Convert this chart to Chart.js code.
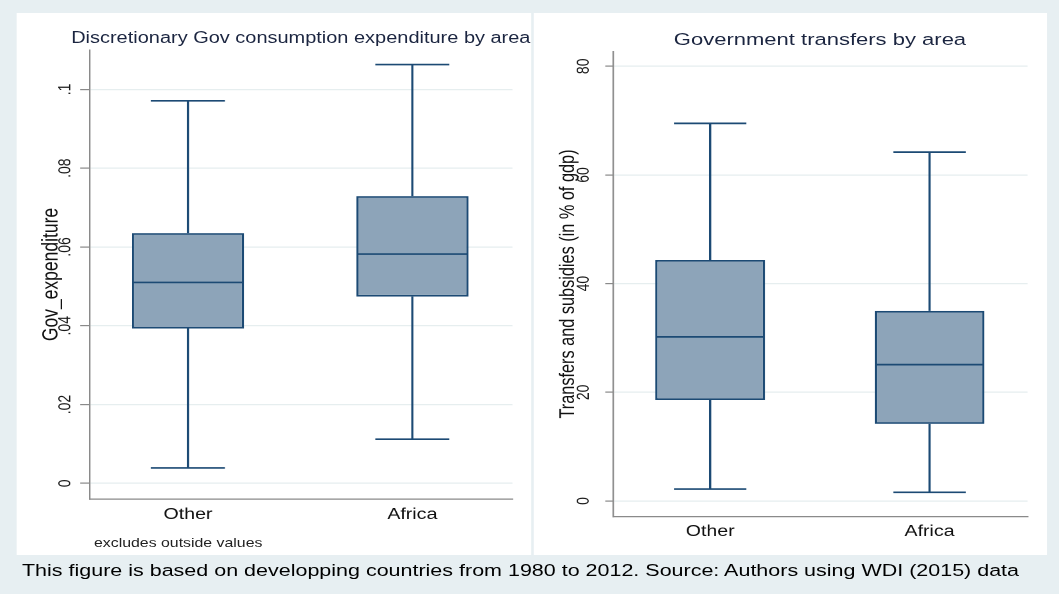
<!DOCTYPE html>
<html>
<head>
<meta charset="utf-8">
<script src="https://cdn.jsdelivr.net/npm/chart.js@4.4.1/dist/chart.umd.min.js"></script>
<style>
  html, body { margin:0; padding:0; width:1059px; height:594px; overflow:hidden; background:#e7eff2; }
  #stage { position:absolute; left:0; top:0; width:828px; height:594px; transform:scaleX(1.28); transform-origin:0 0;
           font-family:"Liberation Sans", Arial, Helvetica, sans-serif; }
  canvas { position:absolute; background:#ffffff; }
  .txt { position:absolute; white-space:nowrap; line-height:1; }
</style>
</head>
<body>
<div id="stage">
  <canvas id="leftChart"></canvas>
  <canvas id="rightChart"></canvas>
  <div id="leftTitle" class="txt">Discretionary Gov consumption expenditure by area</div>
  <div id="rightTitle" class="txt">Government transfers by area</div>
  <div id="note" class="txt">excludes outside values</div>
  <div id="caption" class="txt">This figure is based on developping countries from 1980 to 2012. Source: Authors using WDI (2015) data</div>
</div>
<script>
// ---------------- data ----------------
const categories = ['Other', 'Africa'];
const categoryPositions = [1, 2];

// Left: Discretionary Gov consumption expenditure (share of GDP)
const govLow    = [0.0039, 0.0112];
const govQ1     = [0.0393, 0.0474];
const govMedian = [0.0510, 0.0582];
const govQ3     = [0.0635, 0.0729];
const govHigh   = [0.0971, 0.1063];
const govTickValues = [0, 0.02, 0.04, 0.06, 0.08, 0.1];
const govTickLabels = ['0', '.02', '.04', '.06', '.08', '.1'];

// Right: Transfers and subsidies (% of GDP)
const trfLow    = [2.2, 1.6];
const trfQ1     = [18.6, 14.2];
const trfMedian = [30.2, 25.1];
const trfQ3     = [44.35, 35.0];
const trfHigh   = [69.5, 64.2];
const trfTickValues = [0, 20, 40, 60, 80];
const trfTickLabels = ['0', '20', '40', '60', '80'];

// ---------------- styling / layout ----------------
const S = 1.28;                 // horizontal stretch of the original export
const X = px => px / S;         // original px -> stage px
const FONT = '"Liberation Sans", Arial, Helvetica, sans-serif';
const NAVY = '#1c4a74';
const FILL = '#8da4b9';
const GRID = '#e6eeef';
const AXIS = '#8a8a8a';

Chart.defaults.font.family = FONT;

function placeText(id, opts) {
  const el = document.getElementById(id);
  el.style.fontSize = opts.size + 'px';
  el.style.color = opts.color;
  el.style.top = (opts.capCenterY - 0.49 * opts.size) + 'px';
  if (opts.centerX !== undefined) {
    el.style.left = (X(opts.centerX) - 400) + 'px';
    el.style.width = '800px';
    el.style.textAlign = 'center';
  } else {
    el.style.left = X(opts.leftX) + 'px';
  }
}

function whiskerPlugin(stats) {
  return {
    id: 'whiskers',
    afterDatasetsDraw(chart) {
      const {ctx} = chart;
      const xs = chart.scales.x, ys = chart.scales.y;
      ctx.save();
      ctx.strokeStyle = NAVY;
      ctx.lineWidth = 1.7;
      stats.positions.forEach((pos, i) => {
        const xc = xs.getPixelForValue(pos);
        const capL = xs.getPixelForValue(pos - stats.capWidth / 2);
        const capR = xs.getPixelForValue(pos + stats.capWidth / 2);
        const boxL = xs.getPixelForValue(pos - stats.boxWidth / 2);
        const boxR = xs.getPixelForValue(pos + stats.boxWidth / 2);
        const pLo = ys.getPixelForValue(stats.low[i]);
        const pQ1 = ys.getPixelForValue(stats.q1[i]);
        const pMed = ys.getPixelForValue(stats.median[i]);
        const pQ3 = ys.getPixelForValue(stats.q3[i]);
        const pHi = ys.getPixelForValue(stats.high[i]);
        ctx.beginPath();
        ctx.moveTo(xc, pQ3); ctx.lineTo(xc, pHi);
        ctx.moveTo(capL, pHi); ctx.lineTo(capR, pHi);
        ctx.moveTo(xc, pQ1); ctx.lineTo(xc, pLo);
        ctx.moveTo(capL, pLo); ctx.lineTo(capR, pLo);
        ctx.moveTo(boxL + 0.8, pMed); ctx.lineTo(boxR - 0.8, pMed);
        ctx.stroke();
      });
      ctx.restore();
    }
  };
}

function makeBoxChart(cfg) {
  const canvas = document.getElementById(cfg.id);
  const left = X(cfg.canvasLeft);
  const width = Math.round(X(cfg.canvasRight - cfg.canvasLeft));
  const height = cfg.canvasBottom - cfg.canvasTop;
  canvas.style.left = left + 'px';
  canvas.style.top = cfg.canvasTop + 'px';
  canvas.style.width = width + 'px';
  canvas.style.height = height + 'px';
  canvas.width = width;
  canvas.height = height;

  const yAxisWidth = X(cfg.plotLeft) - left;
  const padRight = (left + width) - X(cfg.plotRight);
  const padTop = cfg.plotTop - cfg.canvasTop;
  const xAxisHeight = cfg.canvasBottom - cfg.plotBottom;

  const s = cfg.stats;
  return new Chart(canvas, {
    type: 'bar',
    data: {
      datasets: [{
        data: categories.map((c, i) => ({x: categoryPositions[i], y: [s.q1[i], s.q3[i]]})),
        backgroundColor: FILL,
        borderColor: NAVY,
        borderWidth: 1.7,
        borderSkipped: false,
        categoryPercentage: 1,
        barPercentage: s.boxWidth
      }]
    },
    options: {
      responsive: false,
      animation: false,
      devicePixelRatio: 2,
      layout: { padding: { left: 0, right: padRight, top: padTop, bottom: 0 } },
      plugins: { legend: { display: false }, tooltip: { enabled: false }, title: { display: false } },
      scales: {
        x: {
          type: 'linear', min: cfg.xMin, max: cfg.xMax, offset: false,
          afterBuildTicks: sc => { sc.ticks = categoryPositions.map(v => ({value: v})); },
          afterFit: sc => { sc.height = xAxisHeight; },
          ticks: {
            callback: v => categories[categoryPositions.indexOf(v)],
            font: { size: 15.3 }, color: '#111', padding: cfg.xLabelPad,
            maxRotation: 0, minRotation: 0, autoSkip: false
          },
          grid: { display: false, drawTicks: false, offset: false },
          border: { display: true, color: AXIS, width: 1.2 }
        },
        y: {
          type: 'linear', min: cfg.yMin, max: cfg.yMax,
          afterBuildTicks: sc => { sc.ticks = cfg.tickValues.map(v => ({value: v})); },
          afterFit: sc => { sc.width = yAxisWidth; },
          ticks: {
            callback: v => cfg.tickLabels[cfg.tickValues.indexOf(v)],
            font: { size: 14 }, color: '#1a1a1a',
            minRotation: 90, maxRotation: 90, crossAlign: 'center',
            padding: cfg.yLabelPad, autoSkip: false
          },
          grid: { color: GRID, lineWidth: 1.2, tickColor: AXIS, tickLength: cfg.tickLen, tickWidth: 1.2, drawTicks: true },
          border: { display: true, color: AXIS, width: 1.2 },
          title: { display: true, text: cfg.yTitle, font: { size: cfg.yTitleSize }, color: '#111', padding: { top: cfg.yTitlePad, bottom: 0 } }
        }
      }
    },
    plugins: [whiskerPlugin(s)]
  });
}

makeBoxChart({
  id: 'leftChart',
  canvasLeft: 17, canvasRight: 531.5, canvasTop: 13, canvasBottom: 555,
  plotLeft: 90, plotRight: 512.8, plotTop: 50, plotBottom: 499,
  xMin: 0.562, xMax: 2.446, yMin: -0.00398, yMax: 0.110,
  tickValues: govTickValues, tickLabels: govTickLabels,
  tickLen: X(9.5), yLabelPad: 1.8, yTitlePad: 16.8, yTitleSize: 17.5, xLabelPad: 6.5,
  yTitle: 'Gov_expenditure',
  stats: { positions: categoryPositions, low: govLow, q1: govQ1, median: govMedian, q3: govQ3, high: govHigh, boxWidth: 0.5, capWidth: 0.33 }
});

makeBoxChart({
  id: 'rightChart',
  canvasLeft: 533.5, canvasRight: 1047, canvasTop: 13, canvasBottom: 555,
  plotLeft: 613, plotRight: 1027.3, plotTop: 51.5, plotBottom: 516.5,
  xMin: 0.558, xMax: 2.447, yMin: -2.85, yMax: 82.72,
  tickValues: trfTickValues, tickLabels: trfTickLabels,
  tickLen: X(8), yLabelPad: 8.9, yTitlePad: 17.1, yTitleSize: 16.3, xLabelPad: 6,
  yTitle: 'Transfers and subsidies (in % of gdp)',
  stats: { positions: categoryPositions, low: trfLow, q1: trfQ1, median: trfMedian, q3: trfQ3, high: trfHigh, boxWidth: 0.5, capWidth: 0.33 }
});

placeText('leftTitle',  { size: 15.6, color: '#1b2540', centerX: 300.8, capCenterY: 38 });
placeText('rightTitle', { size: 17.2, color: '#1b2540', centerX: 820, capCenterY: 39 });
placeText('note',       { size: 12.4, color: '#222', leftX: 94, capCenterY: 543.5 });
placeText('caption',    { size: 16.8, color: '#000', leftX: 22, capCenterY: 571 });
</script>
</body>
</html>
